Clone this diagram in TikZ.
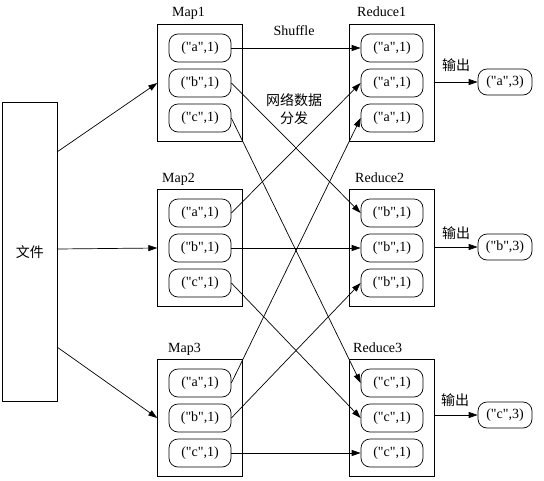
\documentclass[tikz,border=0pt]{standalone}
\usepackage{fontspec}
\setmainfont{Liberation Serif}[Ligatures=TeXOff]
\newfontfamily\cjk{Noto Sans CJK SC}
\usetikzlibrary{arrows.meta, positioning, fit}

\begin{document}
\begin{tikzpicture}[
    x=1pt, y=-1pt,
    font=\fontsize{14}{16}\selectfont,
    kv/.style={draw, line width=0.7pt, rounded corners=9pt, minimum width=62pt, minimum height=28pt, inner sep=0pt},
    res/.style={draw, line width=0.7pt, rounded corners=9pt, minimum width=54pt, minimum height=26pt, inner sep=0pt},
    group/.style={draw, line width=0.7pt, inner xsep=11pt, inner ysep=9pt},
    filebox/.style={draw, line width=0.7pt, minimum width=55pt, minimum height=299pt},
    title/.style={anchor=base west, inner sep=0pt},
    arrow/.style={-{Triangle[length=9pt, width=6pt]}, line width=0.7pt}
]
\useasboundingbox (0,0) rectangle (544,480);

% input file
\node[filebox] (file) at (30,252) {\cjk 文件};

% map side
\node[kv] (m11) at (200,48) {("a",1)};
\node[kv] (m12) at (200,83) {("b",1)};
\node[kv] (m13) at (200,118) {("c",1)};
\node[kv] (m21) at (200,213) {("a",1)};
\node[kv] (m22) at (200,248) {("b",1)};
\node[kv] (m23) at (200,283) {("c",1)};
\node[kv] (m31) at (200,383) {("a",1)};
\node[kv] (m32) at (200,418) {("b",1)};
\node[kv] (m33) at (200,453) {("c",1)};
\node[group, fit=(m11)(m13)] (map1) {};
\node[group, fit=(m21)(m23)] (map2) {};
\node[group, fit=(m31)(m33)] (map3) {};
\node[title] (map1t) at (172,16) {Map1};
\node[title] (map2t) at (162,182) {Map2};
\node[title] (map3t) at (168,352) {Map3};

% reduce side
\node[kv] (r11) at (392,48) {("a",1)};
\node[kv] (r12) at (392,83) {("a",1)};
\node[kv] (r13) at (392,118) {("a",1)};
\node[kv] (r21) at (392,213) {("b",1)};
\node[kv] (r22) at (392,248) {("b",1)};
\node[kv] (r23) at (392,283) {("b",1)};
\node[kv] (r31) at (392,383) {("c",1)};
\node[kv] (r32) at (392,418) {("c",1)};
\node[kv] (r33) at (392,453) {("c",1)};
\node[group, fit=(r11)(r13)] (red1) {};
\node[group, fit=(r21)(r23)] (red2) {};
\node[group, fit=(r31)(r33)] (red3) {};
\node[title] (red1t) at (357,16) {Reduce1};
\node[title] (red2t) at (355,182) {Reduce2};
\node[title] (red3t) at (353,352) {Reduce3};

% results
\node[res] (res1) at (505,82) {("a",3)};
\node[res] (res2) at (505,247) {("b",3)};
\node[res] (res3) at (505,415) {("c",3)};

\node (shuffle) at (294,31) {Shuffle};
\node[align=center, font=\fontsize{14}{18}\selectfont\cjk] (net) at (294,109) {网络数据\\分发};
\node[font=\fontsize{14}{16}\selectfont\cjk] (out1) at (456,65) {输出};
\node[font=\fontsize{14}{16}\selectfont\cjk] (out2) at (456,233) {输出};
\node[font=\fontsize{14}{16}\selectfont\cjk] (out3) at (455,400) {输出};

% file -> maps
\coordinate (f1) at (57,152);
\coordinate (f2) at (57,249);
\coordinate (f3) at (57,347);
\draw[arrow] (f1) -- (map1.west |- m12);
\draw[arrow] (f2) -- (map2.west |- m22);
\draw[arrow] (f3) -- (map3.west |- m32);

% shuffle
\draw[arrow] (m11.east) -- (r11.west);
\draw[arrow] (m12.east) -- (r21.west);
\draw[arrow] (m13.east) -- (r31.west);
\draw[arrow] (m21.east) -- (r12.west);
\draw[arrow] (m22.east) -- (r22.west);
\draw[arrow] (m23.east) -- (r32.west);
\draw[arrow] (m31.east) -- (r13.west);
\draw[arrow] (m32.east) -- (r23.west);
\draw[arrow] (m33.east) -- (r33.west);

% reduce -> results
\draw[arrow] (red1.east |- res1) -- (res1);
\draw[arrow] (red2.east |- res2) -- (res2);
\draw[arrow] (red3.east |- res3) -- (res3);

\end{tikzpicture}
\end{document}
